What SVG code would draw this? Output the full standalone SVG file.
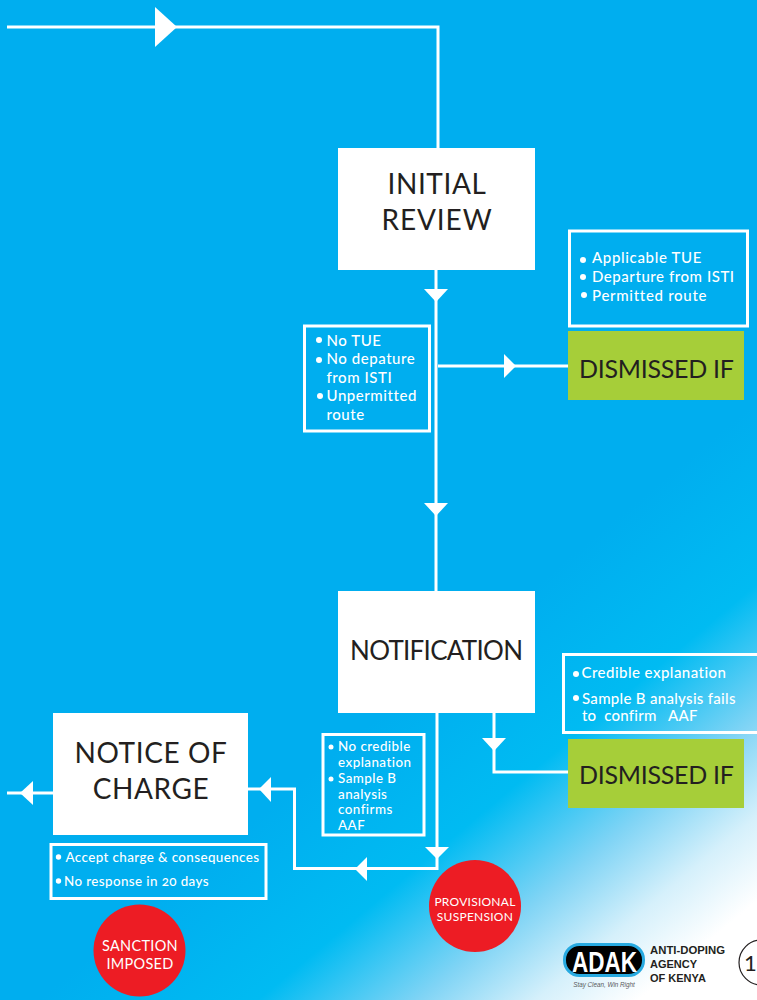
<svg xmlns="http://www.w3.org/2000/svg" width="757" height="1000" viewBox="0 0 757 1000">
<defs>
<linearGradient id="bg" gradientUnits="userSpaceOnUse" x1="470" y1="640" x2="770" y2="1000">
<stop offset="0" stop-color="#00aeef"/>
<stop offset="0.3" stop-color="#00bbf2"/>
<stop offset="0.52" stop-color="#80d4f5"/>
<stop offset="0.68" stop-color="#d5f0fb"/>
<stop offset="0.82" stop-color="#ffffff"/>
</linearGradient>
</defs>
<style>
text{font-family:"Lato","Noto Sans","Liberation Sans",sans-serif}
.line{fill:none;stroke:#fff;stroke-width:3}
.head{fill:#fff}
.white{fill:#fff}
.green{fill:#a6ce39}
.red{fill:#ed1c24}
.box{fill:none;stroke:#fff;stroke-width:3}
.big{font-size:28px;fill:#231f20;text-anchor:middle;letter-spacing:.6px}
.dis{font-size:25px;fill:#231f20;text-anchor:middle}
.li{font-size:15px;fill:#fff;font-weight:500;letter-spacing:.55px}
.sm{font-size:13.400px;fill:#fff;font-weight:500;letter-spacing:.45px;font-variant-numeric:oldstyle-nums}
.c1{font-size:14.500px;fill:#fff;text-anchor:middle;letter-spacing:.3px}
.c2{font-size:12px;fill:#fff;text-anchor:middle;letter-spacing:.25px}
.dot{fill:#fff}
.org{font-size:11px;font-weight:700;fill:#231f20;font-family:"Liberation Sans",sans-serif}
</style>
<rect width="757" height="1000" fill="url(#bg)"/>
<g id="connectors">
<path class="line" d="M7 27H438V148"/>
<path class="head" d="M155 7L177 27L155 47Z"/>
<path class="line" d="M436 270V591"/>
<path class="head" d="M424 289H448L436 302Z"/>
<path class="head" d="M424 503H448L436 516Z"/>
<path class="line" d="M438 366H568"/>
<path class="head" d="M504 354L516 366L504 378Z"/>
<path class="line" d="M437 713V868.500H294.500V789H248"/>
<path class="head" d="M425 847H449L437 859Z"/>
<path class="head" d="M367 857L355 869L367 881Z"/>
<path class="head" d="M271 777L259 789L271 802Z"/>
<path class="line" d="M494 713V772H568"/>
<path class="head" d="M482 738H506L494 751Z"/>
<path class="line" d="M7 793H53"/>
<path class="head" d="M33 781L20 793L33 805Z"/>
</g>
<g id="initial-review">
<rect class="white" x="338" y="148" width="197" height="122"/>
<text class="big" x="437" y="194">INITIAL</text>
<text class="big" x="437" y="230" style="letter-spacing:.9px">REVIEW</text>
</g>
<g id="dismissed-conditions-1">
<rect class="box" x="569.500" y="231" width="178" height="95"/>
<circle class="dot" cx="583" cy="260" r="3"/><text class="li" x="592" y="263" textLength="110">Applicable TUE</text>
<circle class="dot" cx="583" cy="277" r="3"/><text class="li" x="592" y="282">Departure from ISTI</text>
<circle class="dot" cx="584" cy="295" r="3"/><text class="li" x="592" y="301" textLength="115">Permitted route</text>
</g>
<g id="dismissed-1">
<rect class="green" x="568" y="331" width="176" height="69"/>
<text class="dis" x="656.500" y="378" textLength="155">DISMISSED IF</text>
</g>
<g id="continue-conditions-1">
<rect class="box" x="304.500" y="326" width="125" height="105"/>
<circle class="dot" cx="319" cy="340" r="3"/><text class="li" x="326.500" y="346">No TUE</text>
<circle class="dot" cx="319" cy="360" r="3"/><text class="li" x="326.500" y="364">No depature</text>
<text class="li" x="326.500" y="383">from ISTI</text>
<circle class="dot" cx="320" cy="396" r="3"/><text class="li" x="326.500" y="401">Unpermitted</text>
<text class="li" x="326.500" y="420">route</text>
</g>
<g id="notification">
<rect class="white" x="338" y="591" width="197" height="122"/>
<text class="big" x="436.500" y="660" style="font-size:26px;letter-spacing:0" textLength="173">NOTIFICATION</text>
</g>
<g id="dismissed-conditions-2">
<rect class="box" x="563.500" y="654.500" width="200" height="78"/>
<circle class="dot" cx="576" cy="674" r="3"/><text class="li" x="581.500" y="678" textLength="145">Credible explanation</text>
<circle class="dot" cx="576" cy="698" r="3"/><text class="li" x="582" y="704" textLength="154">Sample B analysis fails</text>
<text class="li" x="582" y="721" xml:space="preserve" textLength="116">to  confirm   AAF</text>
</g>
<g id="dismissed-2">
<rect class="green" x="568" y="739" width="176" height="69"/>
<text class="dis" x="656.500" y="784" textLength="155">DISMISSED IF</text>
</g>
<g id="continue-conditions-2">
<rect class="box" x="323" y="734.500" width="101" height="100.500"/>
<circle class="dot" cx="331" cy="747" r="2.500"/><text class="sm" x="338" y="751">No credible</text>
<text class="sm" x="338" y="767">explanation</text>
<circle class="dot" cx="331" cy="779" r="2.500"/><text class="sm" x="338" y="783">Sample B</text>
<text class="sm" x="338" y="799">analysis</text>
<text class="sm" x="338" y="814">confirms</text>
<text class="sm" x="338" y="830">AAF</text>
</g>
<g id="notice-of-charge">
<rect class="white" x="53" y="713" width="195" height="122"/>
<text class="big" x="151" y="763">NOTICE OF</text>
<text class="big" x="151" y="799">CHARGE</text>
</g>
<g id="charge-options">
<rect class="box" x="51" y="844.500" width="215" height="54"/>
<circle class="dot" cx="58.500" cy="857" r="2.700"/><text class="sm" x="65.500" y="862" textLength="194">Accept charge &amp; consequences</text>
<circle class="dot" cx="58.500" cy="881" r="2.700"/><text class="sm" x="64" y="886" textLength="145">No response in 20 days</text>
</g>
<g id="provisional-suspension">
<circle class="red" cx="475" cy="906" r="46"/>
<text class="c2" x="475" y="906">PROVISIONAL</text>
<text class="c2" x="475" y="921">SUSPENSION</text>
</g>
<g id="sanction-imposed">
<circle class="red" cx="139.500" cy="950.500" r="46"/>
<text class="c1" x="140" y="951">SANCTION</text>
<text class="c1" x="140" y="969">IMPOSED</text>
</g>
<g id="adak-logo">
<rect x="564.500" y="944.500" width="79" height="31" rx="15" fill="#000" stroke="#27aae1" stroke-width="3"/>
<text x="604.500" y="972" font-size="30" font-weight="700" fill="#fff" text-anchor="middle" style="font-family:'Liberation Sans',sans-serif" textLength="65" lengthAdjust="spacingAndGlyphs">ADAK</text>
<text x="604" y="987" font-size="6.300" font-style="italic" fill="#58595b" text-anchor="middle" style="font-family:'Liberation Sans',sans-serif">Stay Clean, Win Right</text>
<text class="org" x="650" y="954" textLength="75" lengthAdjust="spacingAndGlyphs">ANTI-DOPING</text>
<text class="org" x="650" y="968">AGENCY</text>
<text class="org" x="650" y="982">OF KENYA</text>
</g>
<g id="page-number">
<circle cx="761.500" cy="962.500" r="22.500" fill="none" stroke="#231f20" stroke-width="1.200"/>
<text x="744" y="971" font-size="22" fill="#231f20">1</text>
</g>
</svg>
